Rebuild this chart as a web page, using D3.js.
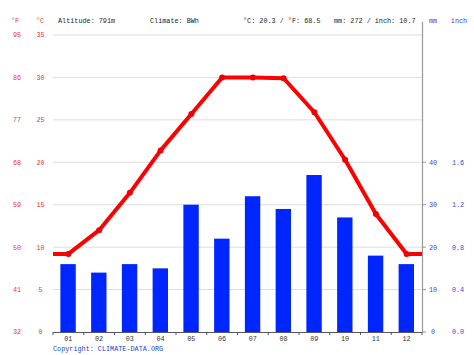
<!DOCTYPE html>
<html><head><meta charset="utf-8">
<script src="https://cdn.jsdelivr.net/npm/d3@7"></script>
<style>body{margin:0;background:#fff}svg{display:block}text{font-family:"Liberation Mono","DejaVu Sans Mono",monospace}</style>
</head><body>
<script>
const months = ["01","02","03","04","05","06","07","08","09","10","11","12"];
const tempC = [9.2, 12.0, 16.4, 21.4, 25.7, 30.0, 30.0, 29.9, 25.9, 20.3, 13.9, 9.2];
const precipMM = [16, 14, 16, 15, 30, 22, 32, 29, 37, 27, 18, 16];
const cTicks = [0, 5, 10, 15, 20, 25, 30, 35];
const fTicks = [32, 41, 50, 59, 68, 77, 86, 95];
const mmTicks = [0, 10, 20, 30, 40];
const inchTicks = ["0.0", "0.4", "0.8", "1.2", "1.6"];
const header = {altitude: "Altitude: 791m", climate: "Climate: BWh", temp: "°C: 20.3 / °F: 68.5", precip: "mm: 272 / inch: 10.7"};

const W = 474, H = 355;
const L = 53, R = 422, T = 35, B = 332;
const svg = d3.select("body").append("svg").attr("width", W).attr("height", H);

const x = d3.scaleBand().domain(months).range([L, R]);
const y = d3.scaleLinear().domain([0, 35]).range([B, T]);
const yP = d3.scaleLinear().domain([0, 70]).range([B, T]);

const fs = "6.8px";
const red = "#ee3333", blue = "#3344ee";

// gridlines
svg.append("g").selectAll("line").data(cTicks.slice(1)).join("line")
  .attr("x1", L).attr("x2", R).attr("y1", d => y(d)).attr("y2", d => y(d))
  .attr("stroke", "#dddddd").attr("stroke-width", 1);

// left labels
svg.append("g").selectAll("text").data(cTicks).join("text")
  .attr("x", 40.5).attr("y", d => y(d)).attr("dy", "0.35em").attr("text-anchor", "middle")
  .attr("font-size", fs).attr("fill", red).text(d => d);
svg.append("g").selectAll("text").data(fTicks).join("text")
  .attr("x", 17).attr("y", (d, i) => y(cTicks[i])).attr("dy", "0.35em").attr("text-anchor", "middle")
  .attr("font-size", fs).attr("fill", red).text(d => d);

// bars
svg.append("g").selectAll("rect").data(precipMM).join("rect")
  .attr("x", (d, i) => x(months[i]) + x.bandwidth() * 0.24)
  .attr("width", x.bandwidth() * 0.5)
  .attr("y", d => yP(d)).attr("height", d => B - yP(d))
  .attr("fill", "#0026ff");

// right axis
svg.append("line").attr("x1", R + 0.5).attr("x2", R + 0.5).attr("y1", 22).attr("y2", B)
  .attr("stroke", "#999").attr("stroke-width", 1.2);
const rg = svg.append("g");
rg.selectAll("line").data(mmTicks).join("line")
  .attr("x1", R).attr("x2", R + 4).attr("y1", d => yP(d)).attr("y2", d => yP(d))
  .attr("stroke", "#999");
rg.selectAll("text.mm").data(mmTicks).join("text").attr("class", "mm")
  .attr("x", 433).attr("y", d => yP(d)).attr("dy", "0.35em").attr("text-anchor", "middle")
  .attr("font-size", fs).attr("fill", blue).text(d => d);
rg.selectAll("text.in").data(inchTicks).join("text").attr("class", "in")
  .attr("x", 458).attr("y", (d, i) => yP(mmTicks[i])).attr("dy", "0.35em").attr("text-anchor", "middle")
  .attr("font-size", fs).attr("fill", blue).text(d => d);

// bottom axis
svg.append("line").attr("x1", L).attr("x2", R).attr("y1", B + 0.5).attr("y2", B + 0.5)
  .attr("stroke", "#556").attr("stroke-width", 1);
svg.append("g").selectAll("line").data(d3.range(13)).join("line")
  .attr("x1", i => L + i * x.step()).attr("x2", i => L + i * x.step())
  .attr("y1", B).attr("y2", B + 3).attr("stroke", "#556");
svg.append("g").selectAll("text").data(months).join("text")
  .attr("x", d => x(d) + x.bandwidth() / 2).attr("y", 341).attr("text-anchor", "middle")
  .attr("font-size", fs).attr("fill", "#333").text(d => d);

// temperature line
const pts = tempC.map((v, i) => [x(months[i]) + x.bandwidth() / 2, y(v)]);
const full = [[L, y(tempC[0])], ...pts, [R, y(tempC[11])]];
svg.append("path").attr("d", d3.line()(full)).attr("fill", "none")
  .attr("stroke", "#ff0000").attr("stroke-width", 4).attr("stroke-linejoin", "round");
svg.append("g").selectAll("circle").data(pts).join("circle")
  .attr("cx", d => d[0]).attr("cy", d => d[1]).attr("r", 3).attr("fill", "#ee0000");

// header
const hy = 23;
const ht = (t, xx, col, anchor) => svg.append("text").attr("x", xx).attr("y", hy)
  .attr("font-size", fs).attr("fill", col).attr("text-anchor", anchor || "start").text(t);
ht("°F", 15, red, "middle");
ht("°C", 40, red, "middle");
ht(header.altitude, 58, "#222");
ht(header.climate, 150, "#222");
ht(header.temp, 243, "#222");
ht(header.precip, 334, "#222");
ht("mm", 433, blue, "middle");
ht("inch", 459, blue, "middle");

svg.append("text").attr("x", 53).attr("y", 351).attr("font-size", fs).attr("fill", "#2244cc")
  .text("Copyright: CLIMATE-DATA.ORG");
</script>
</body></html>
